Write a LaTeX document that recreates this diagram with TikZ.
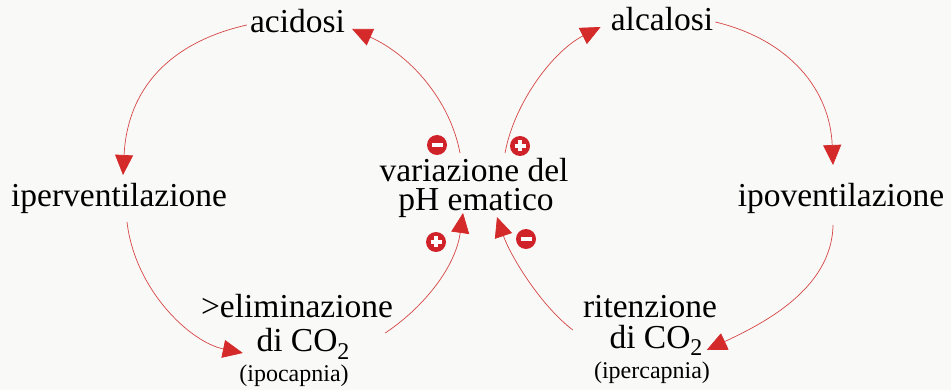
\documentclass[tikz,border=0pt]{standalone}
\usepackage{fontspec}
\setmainfont{Liberation Serif}
\usetikzlibrary{arrows.meta}
\definecolor{linered}{HTML}{D64545}
\definecolor{headred}{HTML}{D42A2A}
\definecolor{signred}{HTML}{CF2229}
\definecolor{paper}{HTML}{F9F9F7}
\newcommand\subtwo{\raisebox{-8pt}{\fontsize{24}{24}\selectfont 2}}
\begin{document}
\begin{tikzpicture}[x=1pt,y=-1pt,
  lbl/.style={anchor=base, inner sep=0pt, font=\fontsize{33.5}{36}\selectfont},
  small/.style={anchor=base, inner sep=0pt, font=\fontsize{24}{28}\selectfont},
  conn/.style={draw=linered, line width=0.7pt, -{Triangle[length=20pt,width=18pt,color=headred]}},
  sign/.style={circle, fill=signred, minimum size=20pt, inner sep=0pt},
  bar/.style={white, line width=3.5pt}
]
\path[use as bounding box, fill=paper] (0,0) rectangle (951,390);

% texts
\node[lbl] (acid) at (297.5,33) {acidosi};
\node[lbl] (alc) at (662,31) {alcalosi};
\node[lbl] (iperv) at (119,207) {iperventilazione};
\node[lbl] (ipov) at (841,207) {ipoventilazione};
\node[lbl] (var) at (474,182) {variazione del};
\node[lbl] (ph) at (476,211) {pH ematico};
\node[lbl] (elim) at (297,317) {>eliminazione};
\node[lbl] (diL) at (303,351) {di CO\subtwo};
\node[small] (ipoc) at (294,381) {(ipocapnia)};
\node[lbl] (riten) at (650,317) {ritenzione};
\node[lbl] (diR) at (656,348) {di CO\subtwo};
\node[small] (iperc) at (652,378) {(ipercapnia)};

% connectors
\draw[conn] ([shift={(-3,-8)}]acid.base west) .. controls (180,40) and (128,80) .. ([shift={(4,-32)}]iperv.base);
\draw[conn] ([shift={(8,15)}]iperv.base) .. controls (135,290) and (190,342) .. ([shift={(-13.5,2)}]diL.base west);
\draw[conn] ([shift={(-8,16)}]elim.base east) .. controls (420,310) and (455,270) .. ([shift={(-13,2)}]ph.base);
\draw[conn] ([shift={(-14,-29)}]var.base) .. controls (450,100) and (410,55) .. ([shift={(7,-4)}]acid.base east);
\draw[conn] ([shift={(31,-29)}]var.base) .. controls (515,100) and (555,50) .. ([shift={(-10,-4)}]alc.base west);
\draw[conn] ([shift={(2,-9)}]alc.base east) .. controls (790,40) and (830,90) .. ([shift={(-8,-42)}]ipov.base);
\draw[conn] ([shift={(-8,18)}]ipov.base) .. controls (832,290) and (760,325) .. ([shift={(4,2)}]diR.base east);
\draw[conn] ([shift={(-10,13)}]riten.base west) .. controls (540,305) and (510,255) .. ([shift={(21,6)}]ph.base);

% signs
\node[sign] (m1) at (437,145) {};
\draw[bar] ([xshift=-5.5pt]m1.center) -- ([xshift=5.5pt]m1.center);
\node[sign] (p1) at (520,146) {};
\draw[bar] ([xshift=-5.5pt]p1.center) -- ([xshift=5.5pt]p1.center);
\draw[bar] ([yshift=-5.5pt]p1.center) -- ([yshift=5.5pt]p1.center);
\node[sign] (p2) at (436,242) {};
\draw[bar] ([xshift=-5.5pt]p2.center) -- ([xshift=5.5pt]p2.center);
\draw[bar] ([yshift=-5.5pt]p2.center) -- ([yshift=5.5pt]p2.center);
\node[sign] (m2) at (526,239) {};
\draw[bar] ([xshift=-5.5pt]m2.center) -- ([xshift=5.5pt]m2.center);
\end{tikzpicture}
\end{document}
